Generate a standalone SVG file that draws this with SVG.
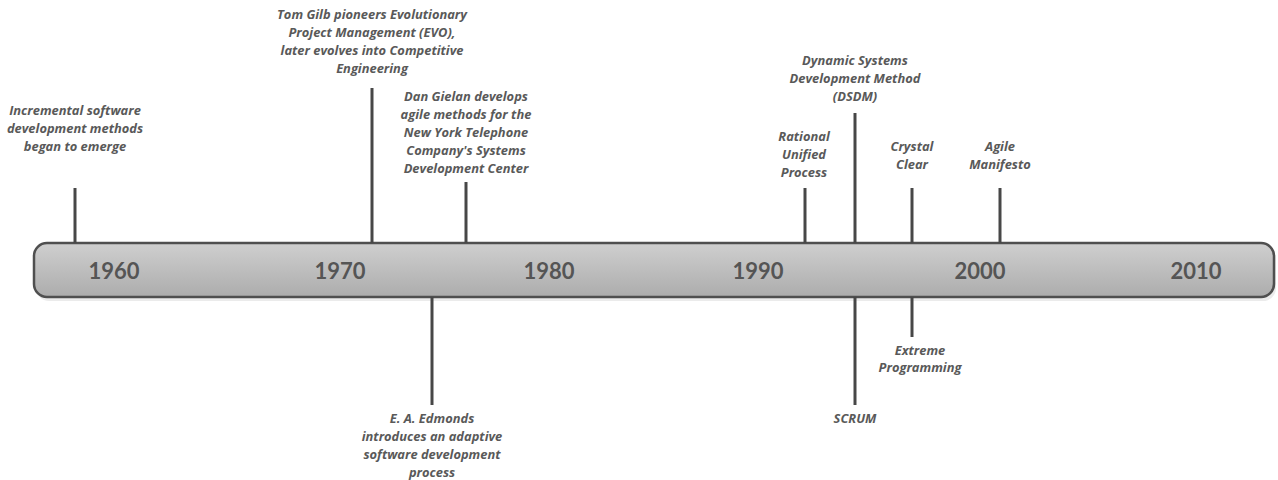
<svg xmlns="http://www.w3.org/2000/svg" width="1278" height="480" viewBox="0 0 1278 480">
  <defs>
    <linearGradient id="barFill" x1="0" y1="0" x2="0" y2="1">
      <stop offset="0" stop-color="#cfcfcf"/>
      <stop offset="1" stop-color="#acacac"/>
    </linearGradient>
    <style>
      .bar { fill: url(#barFill); stroke: #4f4f4f; stroke-width: 2.5; }
      .shadow { fill: #000; opacity: 0.08; }
      .year { font-family: Lato, "Open Sans", sans-serif; font-weight: bold; font-size: 22px; fill: #555555; text-anchor: middle; }
      .label { font-family: "Open Sans", Lato, sans-serif; font-weight: bold; font-style: italic; font-size: 12.9px; fill: #595959; text-anchor: middle; }
      .tick { stroke: #474747; stroke-width: 3; fill: none; }
    </style>
  </defs>
  <rect width="1278" height="480" fill="#ffffff"/>

  <!-- timeline bar -->
  <g id="timeline">
    <rect class="shadow" x="36" y="246" width="1240" height="55" rx="13"/>
    <rect class="bar" x="34" y="243" width="1240" height="54" rx="13"/>
    <text class="year" x="114" y="279">1960</text>
    <text class="year" x="340" y="279">1970</text>
    <text class="year" x="549" y="279">1980</text>
    <text class="year" x="758" y="279">1990</text>
    <text class="year" x="980" y="279">2000</text>
    <text class="year" x="1196" y="279">2010</text>
  </g>

  <!-- event ticks -->
  <g id="connectors">
    <line class="tick" x1="75" y1="188" x2="75" y2="243"/>
    <line class="tick" x1="372" y1="88" x2="372" y2="243"/>
    <line class="tick" x1="466" y1="182" x2="466" y2="243"/>
    <line class="tick" x1="432" y1="297" x2="432" y2="405"/>
    <line class="tick" x1="805" y1="188" x2="805" y2="243"/>
    <line class="tick" x1="855" y1="113" x2="855" y2="243"/>
    <line class="tick" x1="855" y1="297" x2="855" y2="405"/>
    <line class="tick" x1="912" y1="188" x2="912" y2="243"/>
    <line class="tick" x1="912" y1="297" x2="912" y2="337"/>
    <line class="tick" x1="1000" y1="188" x2="1000" y2="243"/>
  </g>

  <g id="incremental">
    <text class="label" x="75" y="115">Incremental software</text>
    <text class="label" x="75" y="133">development methods</text>
    <text class="label" x="75" y="151">began to emerge</text>
  </g>

  <g id="evo">
    <text class="label" x="372" y="19">Tom Gilb pioneers Evolutionary</text>
    <text class="label" x="372" y="37">Project Management (EVO),</text>
    <text class="label" x="372" y="55">later evolves into Competitive</text>
    <text class="label" x="372" y="73">Engineering</text>
  </g>

  <g id="gielan">
    <text class="label" x="466" y="101">Dan Gielan develops</text>
    <text class="label" x="466" y="119">agile methods for the</text>
    <text class="label" x="466" y="137">New York Telephone</text>
    <text class="label" x="466" y="155">Company's Systems</text>
    <text class="label" x="466" y="173">Development Center</text>
  </g>

  <g id="edmonds">
    <text class="label" x="432" y="423">E. A. Edmonds</text>
    <text class="label" x="432" y="441">introduces an adaptive</text>
    <text class="label" x="432" y="459">software development</text>
    <text class="label" x="432" y="477">process</text>
  </g>

  <g id="rup">
    <text class="label" x="804" y="141">Rational</text>
    <text class="label" x="804" y="159">Unified</text>
    <text class="label" x="804" y="177">Process</text>
  </g>

  <g id="dsdm">
    <text class="label" x="855" y="65">Dynamic Systems</text>
    <text class="label" x="855" y="83">Development Method</text>
    <text class="label" x="855" y="101">(DSDM)</text>
  </g>

  <g id="scrum">
    <text class="label" x="855" y="423">SCRUM</text>
  </g>

  <g id="crystal">
    <text class="label" x="912" y="151">Crystal</text>
    <text class="label" x="912" y="169">Clear</text>
  </g>

  <g id="xp">
    <text class="label" x="920" y="355">Extreme</text>
    <text class="label" x="920" y="372">Programming</text>
  </g>

  <g id="manifesto">
    <text class="label" x="1000" y="151">Agile</text>
    <text class="label" x="1000" y="169">Manifesto</text>
  </g>
</svg>
